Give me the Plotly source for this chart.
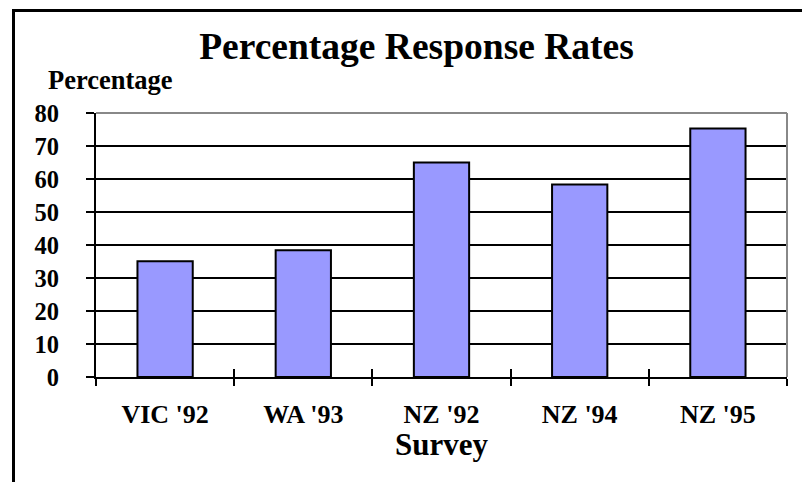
import plotly.graph_objects as go

surveys = ["VIC '92", "WA '93", "NZ '92", "NZ '94", "NZ '95"]
response_rates = [35.1, 38.4, 65.0, 58.3, 75.3]
y_ticks = [0, 10, 20, 30, 40, 50, 60, 70, 80]

FONT = "Liberation Serif"
L, R, T, B = 96, 15, 113, 105
W, H = 802, 482
pw, ph = W - L - R, H - T - B

def px_x(x):
    return (x - L) / pw

def px_y(y):
    return (H - B - y) / ph

fig = go.Figure()
fig.add_trace(go.Bar(
    x=surveys, y=response_rates, width=0.4,
    marker=dict(color="#9999FF", line=dict(color="black", width=2)),
    showlegend=False, hoverinfo="x+y",
))
# invisible copy on an overlay axis, used only to draw the inner half of the cross ticks
fig.add_trace(go.Bar(
    x=surveys, y=response_rates, width=0.4, xaxis="x2", opacity=0,
    showlegend=False, hoverinfo="skip",
))

fig.update_layout(
    width=W, height=H,
    margin=dict(l=L, r=R, t=T, b=B, autoexpand=False),
    paper_bgcolor="white", plot_bgcolor="white",
    font=dict(family=FONT, color="black"),
    title=dict(text="Percentage Response Rates", x=416.5 / W, xanchor="center",
               y=1 - 46 / H, yanchor="middle", yref="container",
               font=dict(size=37.5, family=FONT, weight="bold", color="black")),
    xaxis=dict(type="category", tickson="boundaries", ticks="outside", ticklen=7,
               tickwidth=2, tickcolor="black", showline=True, linewidth=2,
               linecolor="black", showgrid=False, ticklabelstandoff=13,
               tickfont=dict(size=26, family=FONT, weight="bold")),
    xaxis2=dict(type="category", overlaying="x", anchor="y", side="bottom",
                matches="x", tickson="boundaries", ticks="inside", ticklen=8,
                tickwidth=2, tickcolor="black", showline=False, showgrid=False,
                showticklabels=False, zeroline=False),
    yaxis=dict(range=[0, 80], tickvals=y_ticks, ticks="outside", ticklen=8,
               tickwidth=2, tickcolor="black", showline=True, linewidth=2,
               linecolor="black", showgrid=True, gridcolor="black", gridwidth=2,
               zeroline=False, ticklabelstandoff=22,
               tickfont=dict(size=24.5, family=FONT, weight="bold")),
    bargap=0.6,
)

fig.add_annotation(text="Percentage", xref="paper", yref="paper",
                   x=px_x(110), y=px_y(80), xanchor="center", yanchor="middle",
                   showarrow=False, font=dict(size=26.5, family=FONT, weight="bold"))
fig.add_annotation(text="Survey", xref="paper", yref="paper",
                   x=0.5, y=px_y(444), xanchor="center", yanchor="middle",
                   showarrow=False, font=dict(size=31, family=FONT, weight="bold"))

# plot-area border (top and right in grey)
fig.add_shape(type="line", xref="paper", yref="paper", x0=0, x1=1, y0=1, y1=1,
              line=dict(color="#888888", width=2))
fig.add_shape(type="line", xref="paper", yref="paper", x0=1, x1=1, y0=0, y1=1,
              line=dict(color="#888888", width=2))
# outer chart frame
fig.add_shape(type="rect", xref="paper", yref="paper",
              x0=px_x(13.5), x1=px_x(830), y0=px_y(520), y1=px_y(10.5),
              line=dict(color="black", width=3), fillcolor="rgba(0,0,0,0)")

fig.write_html("out.html", config={"displayModeBar": False},
               post_script="document.body.style.margin='0';document.body.style.overflow='hidden';")
